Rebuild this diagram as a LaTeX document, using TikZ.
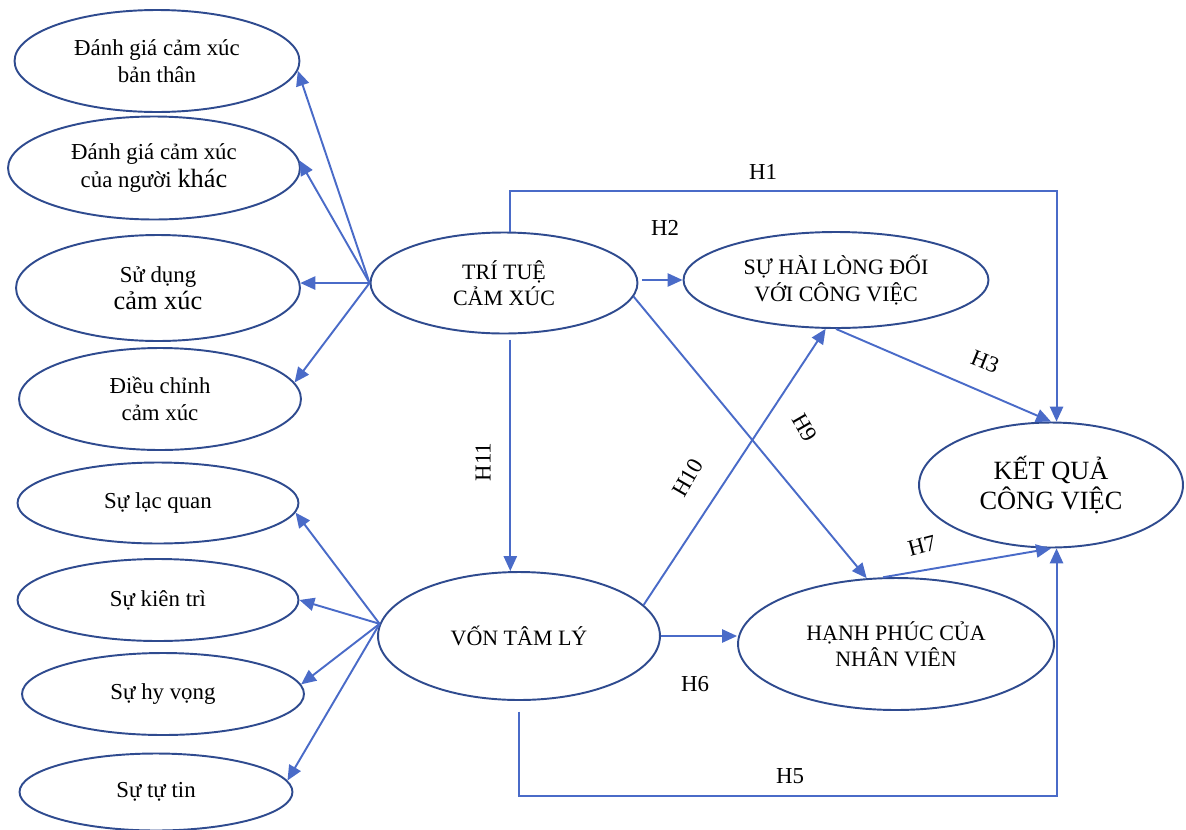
\documentclass[tikz,border=0pt]{standalone}
\usepackage{fontspec}
\setmainfont{Liberation Serif}
\usetikzlibrary{shapes.geometric}
\usetikzlibrary{arrows.meta}
\definecolor{ovalblue}{HTML}{2F4B8F}
\definecolor{linkblue}{HTML}{4A6BC8}
\newcommand{\bigword}[1]{{\fontsize{15}{18}\selectfont #1}}

\begin{document}
\begin{tikzpicture}
			[
				x = 0.02cm, y = -0.02cm,
				oval/.style = {ellipse, draw = ovalblue, line width = 1.1pt, inner sep = 0pt, align = center, font = \fontsize{13}{15.5}\selectfont},
				capoval/.style = {oval, font = \fontsize{12.5}{15}\selectfont},
				link/.style = {draw = linkblue, line width = 1.1pt, -{Triangle[length = 8.5pt, width = 7.5pt]}},
				hyp/.style = {font = \fontsize{13}{15}\selectfont, inner sep = 0pt},
			]
			\useasboundingbox (0,0) rectangle (1186,829);
			% left column: emotional intelligence items
			\node (self) [oval, minimum width = 5.7cm, minimum height = 2.04cm] at (157,61) {Đánh giá cảm xúc\\bản thân};
			\node (others) [oval, minimum width = 5.84cm, minimum height = 2.06cm] at (154,168) {Đánh giá cảm xúc\\của người \bigword{khác}};
			\node (usage) [oval, minimum width = 5.68cm, minimum height = 2.12cm] at (158,288) {Sử dụng\\\bigword{cảm xúc}};
			\node (regul) [oval, minimum width = 5.64cm, minimum height = 2.04cm] at (160,399) {Điều chỉnh\\cảm xúc};
			% left column: psychological capital items
			\node (optim) [oval, minimum width = 5.62cm, minimum height = 1.62cm] at (158,503) {Sự lạc quan};
			\node (resil) [oval, minimum width = 5.62cm, minimum height = 1.64cm] at (158,600) {Sự kiên trì};
			\node (hope) [oval, minimum width = 5.64cm, minimum height = 1.64cm] at (163,694) {Sự hy vọng};
			\node (effic) [oval, minimum width = 5.46cm, minimum height = 1.54cm] at (156,792) {Sự tự tin};
			% constructs
			\node (emo) [capoval, minimum width = 5.34cm, minimum height = 2.02cm] at (504,283) {TRÍ TUỆ\\CẢM XÚC};
			\node (satis) [capoval, minimum width = 6.1cm, minimum height = 1.92cm] at (836,280) {SỰ HÀI LÒNG ĐỐI\\VỚI CÔNG VIỆC};
			\node (perf) [oval, minimum width = 5.28cm, minimum height = 2.5cm, font = \fontsize{15}{17.5}\selectfont] at (1051,485) {KẾT QUẢ\\CÔNG VIỆC};
			\node (well) [capoval, minimum width = 6.32cm, minimum height = 2.64cm] at (896,644) {HẠNH PHÚC CỦA\\NHÂN VIÊN};
			\node (psycap) [capoval, minimum width = 5.64cm, minimum height = 2.56cm] at (519,636) {VỐN TÂM LÝ};

			\draw [link] (emo.west) -- (self.-4);
			\draw [link] (emo.west) -- (others.3);
			\draw [link] (emo.west) -- (usage.2);
			\draw [link] (emo.west) -- (regul.7);
			\draw [link] (psycap.175) -- (optim.-4);
			\draw [link] (psycap.175) -- (resil.east);
			\draw [link] (psycap.175) -- (hope.4);
			\draw [link] (psycap.175) -- (effic.5);

			\draw [link] (emo.83) -- ++(0,-41) -| (perf.85);
			\draw [link, shorten <= 2pt] (satis.west -| emo.east) -- (satis.west);
			\draw [link] (satis.south) -- (perf.north);
			\draw [link, shorten <= 3pt] (emo.-83) -- (emo.-83 |- psycap.north);
			\draw [link] (emo.-6) -- (well.114);
			\draw [link] (psycap.14) -- (satis.-102);
			\draw [link] (psycap.east) -- (psycap.east -| well.west);
			\draw [link] (well.101) -- (perf.-90);
			\draw [link, shorten <= 6pt] (psycap.south) -- ++(0,95) -| (perf.-85);

			\node (h1) [hyp] at (763,172) {H1};
			\node (h2) [hyp] at (665,228) {H2};
			\node (h3) [hyp, rotate = -22] at (985,362) {H3};
			\node (h5) [hyp] at (790,776) {H5};
			\node (h6) [hyp] at (695,684) {H6};
			\node (h7) [hyp, rotate = 15] at (922,546) {H7};
			\node (h9) [hyp, rotate = -60] at (805,428) {H9};
			\node (h10) [hyp, rotate = 60] at (688,478) {H10};
			\node (h11) [hyp, rotate = 90] at (483,462) {H11};
		\end{tikzpicture}
\end{document}
